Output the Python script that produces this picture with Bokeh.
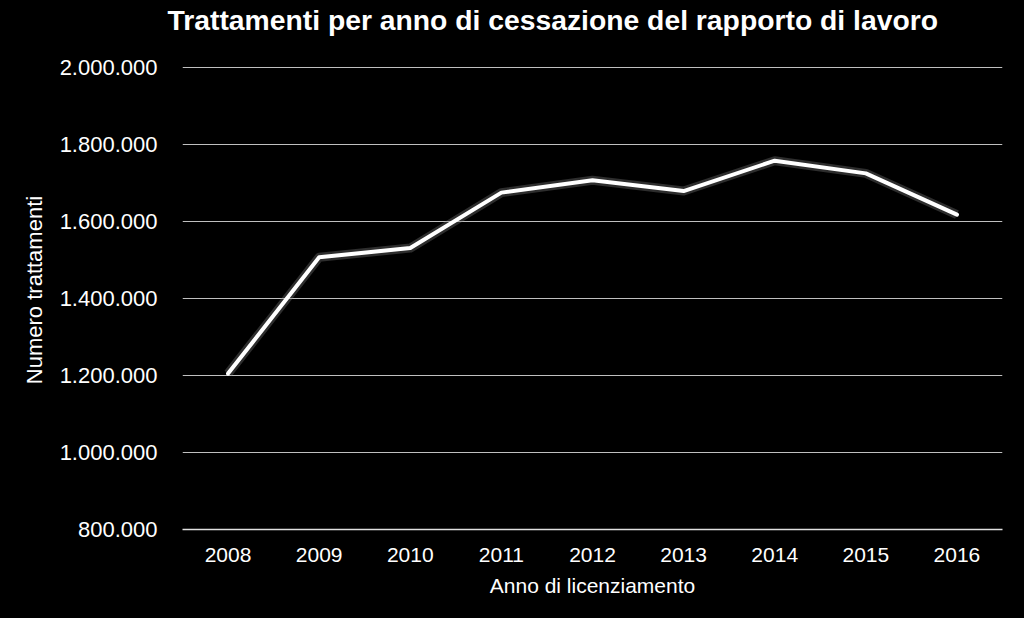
from bokeh.plotting import figure
from bokeh.layouts import column
from bokeh.models import FixedTicker, CustomJSTickFormatter, FactorRange, Range1d, Label
from bokeh.embed import file_html
from bokeh.resources import INLINE

years = ["2008", "2009", "2010", "2011", "2012", "2013", "2014", "2015", "2016"]
trattamenti = [1205000, 1507000, 1531000, 1675000, 1707000, 1679000, 1758000, 1725000, 1618000]
y_ticks = [800000, 1000000, 1200000, 1400000, 1600000, 1800000, 2000000]
title_text = "Trattamenti per anno di cessazione del rapporto di lavoro"
x_label = "Anno di licenziamento"
y_label = "Numero trattamenti"

FONT = "Liberation Sans"
TOP_H = 50

# ---- title strip ----
pt = figure(width=1024, height=TOP_H, output_backend="svg", toolbar_location=None,
            x_range=Range1d(0, 1024), y_range=Range1d(0, TOP_H),
            x_axis_type=None, y_axis_type=None, min_border=0)
pt.frame_align = False
pt.background_fill_color = None
pt.border_fill_color = None
pt.outline_line_color = None
pt.grid.visible = False
pt.styles = {"background-color": "black"}
pt.add_layout(Label(x=167, y=TOP_H - 19, text=title_text, text_color="white",
                    text_font=FONT, text_font_size="28.3px", text_font_style="bold",
                    text_align="left", text_baseline="alphabetic"))

# ---- main chart ----
px_per_unit = 462 / 1200000  # 800k -> 2M spans 462 px
y_end = 2000000 + (67 - TOP_H) / px_per_unit

p = figure(width=1024, height=618 - TOP_H, output_backend="svg", toolbar_location=None,
           x_range=FactorRange(*years, range_padding=0),
           y_range=Range1d(800000, y_end),
           min_border_left=182, min_border_right=22, min_border_top=0, min_border_bottom=89)
p.frame_align = False
p.background_fill_color = None
p.border_fill_color = None
p.styles = {"background-color": "black"}
p.outline_line_color = None

# shadow / glow
p.line(years, trattamenti, line_color="#808080", line_width=9, line_alpha=0.35, line_join="round")
p.line(years, trattamenti, line_color="white", line_width=4, line_join="round", line_cap="round")

p.xgrid.visible = False
p.ygrid.grid_line_color = "#bfbfbf"
p.ygrid.grid_line_width = 1
p.yaxis.ticker = FixedTicker(ticks=y_ticks)
p.yaxis.formatter = CustomJSTickFormatter(code="return tick.toFixed(0).replace(/\\B(?=(\\d{3})+(?!\\d))/g, '.');")

for ax in p.yaxis:
    ax.axis_line_color = None
    ax.major_tick_line_color = None
    ax.minor_tick_line_color = None
    ax.major_tick_out = 0
    ax.major_label_text_color = "white"
    ax.major_label_text_font = FONT
    ax.major_label_text_font_size = "22px"
    ax.major_label_standoff = 25
    ax.axis_label = y_label
    ax.axis_label_text_color = "white"
    ax.axis_label_text_font = FONT
    ax.axis_label_text_font_size = "22px"
    ax.axis_label_text_font_style = "normal"
    ax.axis_label_standoff = 10

for ax in p.xaxis:
    ax.axis_line_color = "#e0e0e0"
    ax.axis_line_width = 1.5
    ax.major_tick_line_color = None
    ax.minor_tick_line_color = None
    ax.major_tick_out = 0
    ax.major_label_text_color = "white"
    ax.major_label_text_font = FONT
    ax.major_label_text_font_size = "21px"
    ax.major_label_standoff = 18
    ax.axis_label = x_label
    ax.axis_label_text_color = "white"
    ax.axis_label_text_font = FONT
    ax.axis_label_text_font_size = "21px"
    ax.axis_label_text_font_style = "normal"
    ax.axis_label_standoff = 9

layout = column(pt, p, spacing=0)
layout.styles = {"background-color": "black"}

open("out.html", "w").write(file_html(layout, INLINE))
